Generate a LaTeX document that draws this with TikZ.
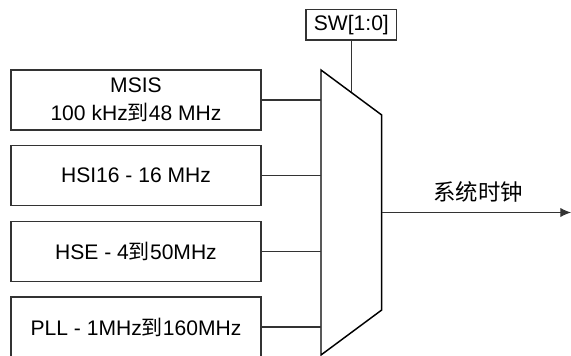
\documentclass[tikz,border=0pt]{standalone}
\usepackage{fontspec}
\setmainfont{Liberation Sans}
\newfontfamily\cjk{Noto Sans CJK SC}
\usetikzlibrary{calc,arrows.meta}
\begin{document}
\begin{tikzpicture}[x=0.75pt,y=-0.75pt,
  srcbox/.style={draw=black!80,line width=0.9pt,minimum width=250*0.75pt,minimum height=60*0.75pt,inner sep=0pt,align=center,font=\fontsize{15.8}{21}\selectfont},
  wire/.style={draw=black!80,line width=0.8pt},
  muxline/.style={draw=black,line width=1.1pt,line join=miter}]
\useasboundingbox (0,0) rectangle (571,356);
\node[srcbox] (msis) at (136,100) {MSIS\\100 kHz{\cjk 到}48 MHz};
\node[srcbox] (hsi) at (136,175.5) {HSI16 - 16 MHz};
\node[srcbox] (hse) at (136,251.5) {HSE - 4{\cjk 到}50MHz};
\node[srcbox] (pll) at (136,327) {PLL - 1MHz{\cjk 到}160MHz};
\coordinate (mTL) at (321,70);
\coordinate (mTR) at (381.7,115);
\coordinate (mBR) at (381.7,310);
\coordinate (mBL) at (321,355);
\draw[muxline] (mTL) -- (mTR) -- (mBR) -- (mBL) -- cycle;
\foreach \n in {msis,hsi,hse,pll}{
  \draw[wire] (\n.east) -- (\n.east -| mTL);
}
\node[draw=black!80,line width=0.9pt,minimum width=90.7*0.75pt,minimum height=30.7*0.75pt,inner sep=0pt,font=\fontsize{15.8}{18}\selectfont] (sw) at (351.35,24.7) {SW[1:0]};
\coordinate (swin) at ($(mTL)!0.5!(mTR)$);
\draw[wire] (sw.south) -- (swin);
\coordinate (out) at ($(mTR)!0.5!(mBR)$);
\coordinate (tip) at (571,212.5);
\draw[wire,-{Latex[length=8pt,width=7pt]}] (out) -- (tip);
\node[font=\cjk\fontsize{16.8}{20}\selectfont,inner sep=0pt] (lbl) at (478,192) {系统时钟};
\end{tikzpicture}
\end{document}
